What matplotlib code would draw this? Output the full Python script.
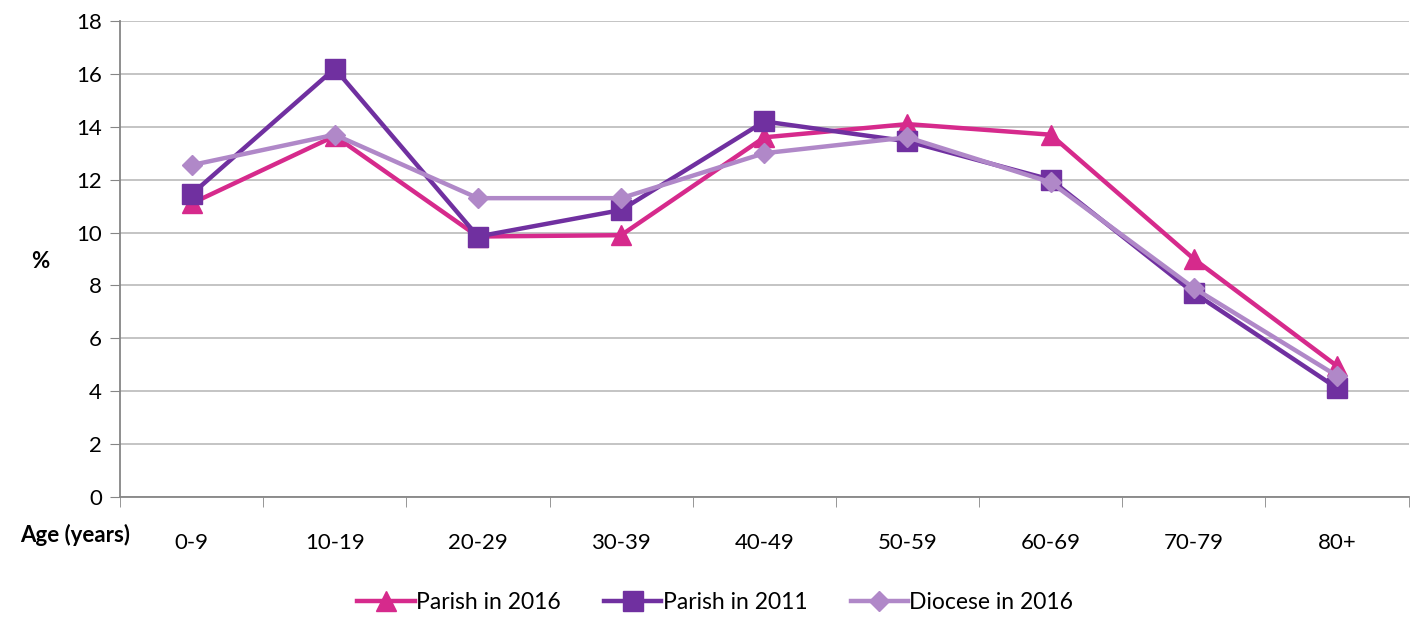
import matplotlib.pyplot as plt

# data
ages = ['0-9', '10-19', '20-29', '30-39', '40-49', '50-59', '60-69', '70-79', '80+']
parish2016 = [11.1, 13.65, 9.85, 9.9, 13.6, 14.1, 13.7, 9.0, 4.95]
parish2011 = [11.45, 16.2, 9.85, 10.85, 14.2, 13.45, 12.0, 7.72, 4.12]
diocese2016 = [12.55, 13.7, 11.3, 11.3, 13.0, 13.6, 11.9, 7.9, 4.58]

plt.rcParams['font.family'] = ['Lato', 'DejaVu Sans']

fig, ax = plt.subplots(figsize=(14.2, 6.17), dpi=100)
fig.subplots_adjust(left=0.0845, right=0.992, bottom=0.1945, top=0.966)

x = list(range(len(ages)))
ax.plot(x, parish2016, color='#D62A8C', lw=3.2, marker='^', ms=14, label='Parish in 2016', zorder=3)
ax.plot(x, parish2011, color='#7030A0', lw=3.2, marker='s', ms=14, label='Parish in 2011', zorder=4)
ax.plot(x, diocese2016, color='#B088C8', lw=3.2, marker='D', ms=10.5, label='Diocese in 2016', zorder=5)

ax.set_ylim(0, 18)
ax.set_yticks(range(0, 19, 2))
ax.set_xlim(-0.5, len(ages) - 0.5)
ax.set_xticks(x)
ax.set_xticklabels(ages)
ax.set_xticks([i - 0.5 for i in range(len(ages) + 1)], minor=True)
ax.tick_params(axis='x', which='major', length=0, pad=26, labelsize=16)
ax.tick_params(axis='x', which='minor', length=7, color='#868686')
ax.tick_params(axis='y', length=7, color='#868686', labelsize=16, pad=6)

ax.grid(axis='y', color='#BFBFBF', lw=1.3)
ax.set_axisbelow(True)
for s in ['top', 'right']:
    ax.spines[s].set_visible(False)
for s in ['left', 'bottom']:
    ax.spines[s].set_color('#868686')
    ax.spines[s].set_linewidth(1.3)

fig.text(40 / 1420, 1 - 262 / 617, '%', ha='center', va='center', fontsize=16, fontweight='bold')
fig.text(130 / 1420, 1 - 535 / 617, 'Age (years)', ha='right', va='center',
         fontsize=16, fontweight='bold')

ax.legend(loc='center', bbox_to_anchor=(0.462, -0.222), bbox_transform=ax.transAxes, ncol=3,
          frameon=False, fontsize=16.5, handlelength=2.5, columnspacing=1.9, handletextpad=0.05)

plt.savefig('out.png')
plt.close()
